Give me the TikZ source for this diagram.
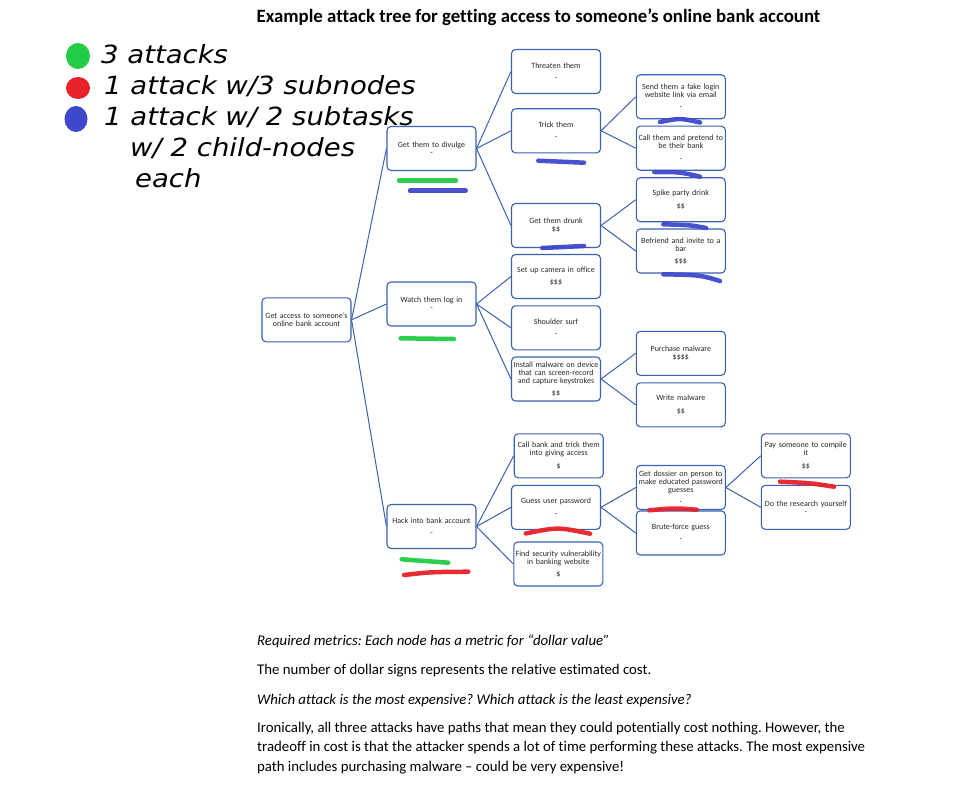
\documentclass[tikz,border=0pt]{standalone}
\usepackage{fontspec}
\setmainfont{Carlito}[Ligatures=NoCommon]
\newfontfamily\hand[FakeStretch=1.1]{DejaVu Sans}
\definecolor{boxblue}{RGB}{59,98,178}
\definecolor{txtgray}{RGB}{40,40,40}
\definecolor{mkgreen}{RGB}{34,204,68}
\definecolor{mkred}{RGB}{232,32,42}
\definecolor{mkblue}{RGB}{63,72,204}
\newcommand{\gp}{\\[4.3pt]}
\frenchspacing
\begin{document}
\begin{tikzpicture}[x=1pt,y=-1pt,
  box/.style={draw=boxblue, line width=1.1pt, rounded corners=4pt, minimum width=89pt, minimum height=44pt,
    text width=88pt, align=center, inner sep=0pt, text=txtgray, font=\fontsize{8}{8}\selectfont},
  link/.style={draw=boxblue, line width=1pt},
  marker/.style={line width=4.5pt, line cap=round, opacity=0.95},
  handtxt/.style={anchor=west, inner sep=0pt, font=\hand\itshape\fontsize{25}{27}\selectfont},
  body/.style={anchor=west, inner sep=0pt, font=\fontsize{14.8}{19.5}\selectfont, align=left}]
\useasboundingbox (0,0) rectangle (963,797);
\fill[white] (0,0) rectangle (963,797);

% title
\node[font=\bfseries\fontsize{18.8}{20}\selectfont, inner sep=0pt] (title) at (538.5,17) {Example attack tree for getting access to someone’s online bank account};

% column 1
\node[box] (root) at (306.5,319.8) {Get access to someone’s\\online bank account};
% column 2
\node[box] (divulge) at (431.5,148.5) {Get them to divulge\\-};
\node[box] (watch) at (431.5,304) {Watch them log in\\-};
\node[box] (hack) at (431.5,526.5) {Hack into bank account\gp -};
% column 3
\node[box] (threaten) at (556,71.5) {Threaten them\gp -};
\node[box] (trick) at (556,130.8) {Trick them\gp -};
\node[box] (drunk) at (556,225.5) {Get them drunk\\\$\$};
\node[box] (camera) at (556,276.5) {Set up camera in office\gp \$\$\$};
\node[box] (shoulder) at (556,327.8) {Shoulder surf\gp -};
\node[box] (install) at (556,379) {Install malware on device\\that can screen-record\\and capture keystrokes\gp \$\$};
\node[box] (callbank) at (558.7,455.8) {Call bank and trick them\\into giving access\gp \$};
\node[box] (guess) at (556,507.3) {Guess user password\gp -};
\node[box] (findvuln) at (558.3,564) {Find security vulnerability\\in banking website\gp \$};
% column 4
\node[box] (fakelink) at (680.8,96.8) {Send them a fake login\\website link via email\gp -};
\node[box] (callthem) at (680.8,148.2) {Call them and pretend to\\be their bank\gp -};
\node[box] (spike) at (680.8,199.7) {Spike party drink\gp \$\$};
\node[box] (befriend) at (680.8,251) {Befriend and invite to a\\bar\gp \$\$\$};
\node[box] (purchase) at (680.8,353.3) {Purchase malware\\\$\$\$\$};
\node[box] (write) at (680.8,404.8) {Write malware\gp \$\$};
\node[box] (dossier) at (680.8,487.5) {Get dossier on person to\\make educated password\\guesses\gp -};
\node[box] (brute) at (680.8,533) {Brute-force guess\gp -};
% column 5
\node[box] (pay) at (805.8,455.8) {Pay someone to compile\\it\gp \$\$};
\node[box] (research) at (805.8,507.3) {Do the research yourself\\-};

% connectors
\foreach \p/\c in {root/divulge, root/watch, root/hack,
  divulge/threaten, divulge/trick, divulge/drunk,
  watch/camera, watch/shoulder, watch/install,
  hack/callbank, hack/guess, hack/findvuln,
  trick/fakelink, trick/callthem, drunk/spike, drunk/befriend,
  install/purchase, install/write, guess/dossier, guess/brute,
  dossier/pay, dossier/research}
  \draw[link] (\p.east) -- (\c.west);

% handwritten legend
\fill[mkgreen] (78,56) ellipse (12 and 13);
\fill[mkred] (78,88) ellipse (12 and 11);
\fill[mkblue] (76,119) ellipse (11.5 and 13);
\node[handtxt] (h1) at (101,54) {3 attacks};
\node[handtxt] (h2) at (104,86) {1 attack w/3 subnodes};
\node[handtxt] (h3) at (104,117) {1 attack w/ 2 subtasks};
\node[handtxt] (h4) at (130,148) {w/ 2 child-nodes};
\node[handtxt] (h5) at (135,178) {each};

% marker strokes
\draw[marker, mkblue] (660,122) .. controls (680,118) .. (700,122.5);
\draw[marker, mkblue] (538.3,160.7) -- (584,162.7);
\draw[marker, mkblue] (654.3,172) .. controls (680,172) .. (700,176.7);
\draw[marker, mkgreen] (399,180.3) -- (456,180.3);
\draw[marker, mkblue] (410,190.7) -- (465.7,190.7);
\draw[marker, mkblue] (663.3,224.3) .. controls (690,225) .. (706,228);
\draw[marker, mkblue] (542.3,248) -- (584,246);
\draw[marker, mkblue] (663.3,274.3) .. controls (700,275) .. (720,281);
\draw[marker, mkgreen] (400.7,338.3) -- (454,339);
\draw[marker, mkred] (780,481.7) .. controls (810,483) .. (834,486.7);
\draw[marker, mkred] (649.3,510.3) .. controls (675,508) .. (696.7,509.7);
\draw[marker, mkred] (525.7,533.5) .. controls (558,527) .. (590,533.7);
\draw[marker, mkgreen] (401.7,559.3) -- (448.3,562.7);
\draw[marker, mkred] (404,575) .. controls (430,572) .. (468.3,571.7);

% text below
\node[body, font=\itshape\fontsize{14.8}{19.5}\selectfont] (t1) at (257,641) {Required metrics: Each node has a metric for “dollar value”};
\node[body] (t2) at (257,671) {The number of dollar signs represents the relative estimated cost.};
\node[body, font=\itshape\fontsize{14.8}{19.5}\selectfont] (t3) at (257,701) {Which attack is the most expensive? Which attack is the least expensive?};
\node[body, anchor=north west] (t4) at (257,722) {Ironically, all three attacks have paths that mean they could potentially cost nothing. However, the\\tradeoff in cost is that the attacker spends a lot of time performing these attacks. The most expensive\\path includes purchasing malware – could be very expensive!};
\end{tikzpicture}
\end{document}
